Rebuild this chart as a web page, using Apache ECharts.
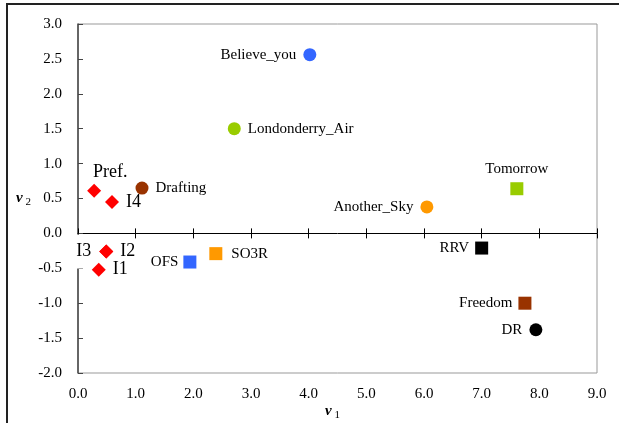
<!DOCTYPE html>
<html><head><meta charset="utf-8">
<script src="https://cdn.jsdelivr.net/npm/echarts@6/dist/echarts.min.js"></script>
<style>html,body{margin:0;padding:0;background:#fff}#c{width:619px;height:423px}</style>
</head><body><div id="c"></div>
<script>
// ---- data ----
const names = ['Believe_you','Londonderry_Air','Tomorrow','Another_Sky','Drafting','Pref.','I4','I2','I3','I1','OFS','SO3R','RRV','Freedom','DR'];
const v1 = [4.02, 2.71, 7.61, 6.05, 1.11, 0.28, 0.59, 0.49, 0.49, 0.36, 1.94, 2.39, 7.00, 7.75, 7.94];
const v2 = [2.56, 1.50, 0.64, 0.38, 0.65, 0.61, 0.45, -0.26, -0.26, -0.52, -0.41, -0.29, -0.21, -1.00, -1.38];
const xTicks = [0,1,2,3,4,5,6,7,8,9];
const yTicks = [-2,-1.5,-1,-0.5,0,0.5,1,1.5,2,2.5,3];

// ---- styles (separate from data) ----
const serif = '"Liberation Serif","Times New Roman",serif';
const sty = {
  'Believe_you':    {c:'#3366ff', s:'circle',  p:'left'},
  'Londonderry_Air':{c:'#99cc00', s:'circle',  p:'right'},
  'Tomorrow':       {c:'#99cc00', s:'rect',    p:'top', d:6},
  'Another_Sky':    {c:'#ff9900', s:'circle',  p:'left'},
  'Drafting':       {c:'#993300', s:'circle',  p:'right'},
  'Pref.':          {c:'#ff0000', s:'diamond', p:'top', big:true, off:[16,1], d:4},
  'I4':             {c:'#ff0000', s:'diamond', p:'right', big:true},
  'I2':             {c:'#ff0000', s:'diamond', p:'right', big:true},
  'I3':             {c:'#ff0000', s:'diamond', p:'left', big:true, bg:true},
  'I1':             {c:'#ff0000', s:'diamond', p:'right', big:true},
  'OFS':            {c:'#3366ff', s:'rect',    p:'left', d:5},
  'SO3R':           {c:'#ff9900', s:'rect',    p:'right', d:9},
  'RRV':            {c:'#000000', s:'rect',    p:'left', d:6},
  'Freedom':        {c:'#993300', s:'rect',    p:'left', d:6},
  'DR':             {c:'#000000', s:'circle',  p:'left'}
};

const data = names.map((n,i)=>{
  const st = sty[n];
  return {
    name:n, value:[v1[i], v2[i]],
    symbol: st.s,
    symbolSize: st.s==='diamond'?14:13,
    itemStyle:{color:st.c, opacity:1},
    label:{
      show:true, formatter:n, position:st.p, distance: st.d!=null?st.d:7,
      offset: st.off||[0,0],
      fontFamily:serif, fontSize: st.big?18:15, color:'#000',
      backgroundColor: st.bg?'#fff':'transparent',
      padding: st.bg?[8,1,8,1]:0
    }
  };
});

const fmt = v => v.toFixed(1);
const xBase = {type:'value', min:xTicks[0], max:xTicks[xTicks.length-1], interval:1, splitLine:{show:false}};
const chart = echarts.init(document.getElementById('c'));
chart.setOption({
  animation:false,
  backgroundColor:'#fff',
  graphic:[{type:'rect', shape:{x:7,y:4,width:700,height:500}, style:{fill:'none', stroke:'#222', lineWidth:2}, silent:true, z:-1}],
  grid:{left:78, right:22, top:24, bottom:50, show:true, borderColor:'#999', borderWidth:1, backgroundColor:'transparent', containLabel:false, outerBoundsMode:'none'},
  xAxis:[
    Object.assign({}, xBase, {
      position:'bottom',
      axisLine:{show:false, onZero:false}, axisTick:{show:false},
      axisLabel:{formatter:fmt, fontFamily:serif, fontSize:15, color:'#000', margin:14},
      name:'{v|ν}{s| 1}', nameLocation:'middle', nameGap:29, nameMoveOverlap:false,
      nameTextStyle:{padding:[0,10,0,0], rich:{v:{fontFamily:serif, fontSize:15, fontWeight:'bold', fontStyle:'italic', color:'#000'},
                           s:{fontFamily:serif, fontSize:11, color:'#000', padding:[8,0,0,0]}}}
    }),
    Object.assign({}, xBase, {
      position:'bottom',
      axisLine:{show:true, onZero:true, onZeroAxisIndex:0, lineStyle:{color:'#000', width:1}},
      axisTick:{show:true, inside:true, length:5, lineStyle:{color:'#000'}},
      axisLabel:{show:false}
    }),
    Object.assign({}, xBase, {
      position:'bottom',
      axisLine:{show:false, onZero:true, onZeroAxisIndex:0},
      axisTick:{show:true, inside:false, length:5, lineStyle:{color:'#000'}},
      axisLabel:{show:false}
    })
  ],
  yAxis:{
    type:'value', min:yTicks[0], max:yTicks[yTicks.length-1], interval:0.5,
    splitLine:{show:false},
    axisLine:{show:true, onZero:false, lineStyle:{color:'#444', width:1.5}},
    axisTick:{show:true, inside:true, length:5, lineStyle:{color:'#444'}},
    axisLabel:{formatter:fmt, fontFamily:serif, fontSize:15, color:'#000', margin:16},
    name:'{v|ν}{s| 2}', nameLocation:'middle', nameGap:47, nameRotate:0, nameMoveOverlap:false,
    nameTextStyle:{rich:{v:{fontFamily:serif, fontSize:15, fontWeight:'bold', fontStyle:'italic', color:'#000'},
                         s:{fontFamily:serif, fontSize:11, color:'#000', padding:[8,0,0,0]}}}
  },
  series:[{type:'scatter', xAxisIndex:0, yAxisIndex:0, data:data, z:3}]
});
</script></body></html>
